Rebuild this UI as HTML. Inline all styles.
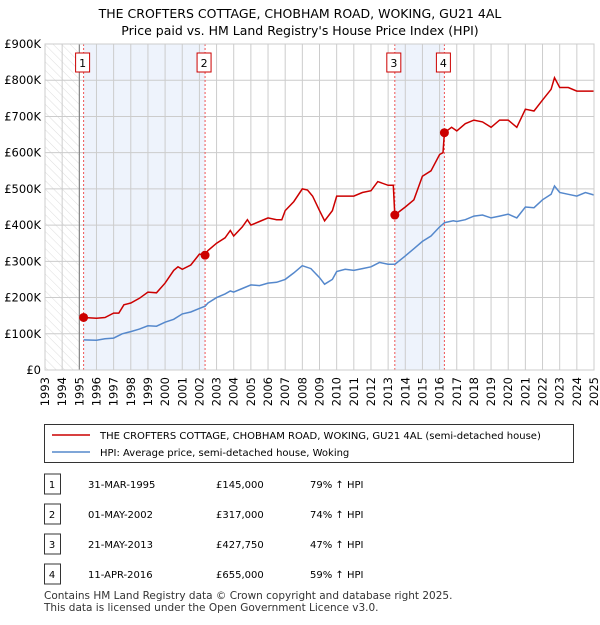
<!DOCTYPE html>
<html><head><meta charset="utf-8"><style>
body{margin:0;background:#fff;font-family:"Liberation Sans","DejaVu Sans",sans-serif;}
svg text{font-family:"DejaVu Sans","Liberation Sans",sans-serif;}
</style></head><body>
<svg id="c" width="600" height="620" xmlns="http://www.w3.org/2000/svg">
<defs><pattern id="hatch" width="6" height="6" patternUnits="userSpaceOnUse" patternTransform="rotate(-45)"><line x1="0" y1="0" x2="0" y2="6" stroke="#d4d4d4" stroke-width="0.8"/></pattern></defs>
<text x="300" y="18" text-anchor="middle" font-size="12.5">THE CROFTERS COTTAGE, CHOBHAM ROAD, WOKING, GU21 4AL</text>
<text x="300" y="35" text-anchor="middle" font-size="12.5">Price paid vs. HM Land Registry's House Price Index (HPI)</text>
<g id="plot"></g>
<g id="legend">
<rect x="44.5" y="424.5" width="529" height="38" fill="#fff" stroke="#333"/>
<line x1="52" y1="435" x2="90" y2="435" stroke="#cc0000" stroke-width="1.5"/>
<text x="100" y="439" font-size="10">THE CROFTERS COTTAGE, CHOBHAM ROAD, WOKING, GU21 4AL (semi-detached house)</text>
<line x1="52" y1="452" x2="90" y2="452" stroke="#5588cc" stroke-width="1.5"/>
<text x="100" y="456" font-size="10">HPI: Average price, semi-detached house, Woking</text>
</g>
<g id="table" font-size="10"></g>
<text x="44" y="599" font-size="10.5" fill="#333">Contains HM Land Registry data © Crown copyright and database right 2025.</text>
<text x="44" y="611" font-size="10.5" fill="#333">This data is licensed under the Open Government Licence v3.0.</text>
</svg>
<script>
const yTicks=[0,100,200,300,400,500,600,700,800,900];
const yTickLabels=["£0","£100K","£200K","£300K","£400K","£500K","£600K","£700K","£800K","£900K"];
const years=[1993,1994,1995,1996,1997,1998,1999,2000,2001,2002,2003,2004,2005,2006,2007,2008,2009,2010,2011,2012,2013,2014,2015,2016,2017,2018,2019,2020,2021,2022,2023,2024,2025];
const saleLabels=["1","2","3","4"];
const saleDates=[1995.25,2002.33,2013.39,2016.28];
const salePrices=[145,317,427.75,655];
const saleDateText=["31-MAR-1995","01-MAY-2002","21-MAY-2013","11-APR-2016"];
const salePriceText=["£145,000","£317,000","£427,750","£655,000"];
const saleHpiText=["79% ↑ HPI","74% ↑ HPI","47% ↑ HPI","59% ↑ HPI"];
const hpiT=[1995.25,1996,1996.5,1997,1997.5,1998,1998.5,1999,1999.5,2000,2000.5,2001,2001.5,2002,2002.33,2002.5,2003,2003.5,2003.8,2004,2004.5,2005,2005.5,2006,2006.5,2007,2007.5,2008,2008.5,2009,2009.3,2009.75,2010,2010.5,2011,2011.5,2012,2012.5,2013,2013.4,2014,2014.5,2015,2015.5,2016,2016.3,2016.8,2017,2017.5,2018,2018.5,2019,2019.5,2020,2020.5,2021,2021.5,2022,2022.5,2022.7,2023,2023.5,2024,2024.5,2025];
const hpiV=[83,82,86,88,100,106,113,122,121,132,140,155,160,170,176,185,200,210,218,215,225,235,233,240,242,250,268,288,280,255,237,250,272,278,275,280,285,297,292,292,315,335,355,370,395,407,412,410,415,425,428,420,425,430,420,450,448,470,485,508,490,485,480,490,483];
const priceT=[1995.25,1996,1996.5,1997,1997.3,1997.6,1998,1998.5,1999,1999.5,2000,2000.5,2000.75,2001,2001.5,2002,2002.33,2002.5,2003,2003.5,2003.8,2004,2004.5,2004.8,2005,2005.5,2006,2006.5,2006.8,2007,2007.5,2008,2008.3,2008.6,2009,2009.3,2009.75,2010,2010.5,2011,2011.5,2012,2012.4,2013,2013.3,2013.39,2014,2014.5,2015,2015.5,2016,2016.2,2016.28,2016.7,2017,2017.5,2018,2018.5,2019,2019.5,2020,2020.5,2021,2021.5,2022,2022.5,2022.7,2023,2023.5,2024,2024.5,2025];
const priceV=[145,143,145,157,157,180,185,198,215,213,240,275,285,278,290,320,317,330,350,365,385,370,395,415,400,410,420,415,415,440,465,500,497,480,440,412,440,480,480,480,490,495,520,510,510,428,450,470,535,550,595,600,655,670,660,680,690,685,670,690,690,670,720,715,745,775,807,780,780,770,770,770];

const NS="http://www.w3.org/2000/svg";
const L=45,R=594,T=44,B=370;
const x=t=>L+(t-1993)/(2025-1993)*(R-L);
const y=v=>B-v/900*(B-T);
const plot=document.getElementById('plot');
function mk(tag,attrs,parent){const e=document.createElementNS(NS,tag);for(const k in attrs)e.setAttribute(k,attrs[k]);(parent||plot).appendChild(e);return e;}
let r=mk('rect',{x:x(1993),y:T,width:x(1995)-x(1993),height:B-T,fill:'url(#hatch)'});


[[0,1],[2,3]].forEach(([a,b])=>{const s=mk('rect',{x:x(saleDates[a]),y:T,width:x(saleDates[b])-x(saleDates[a]),height:B-T,fill:'#eef3fc'});

});
years.forEach(yr=>{const g=mk('line',{x1:x(yr),x2:x(yr),y1:T,y2:B,stroke:'#ccc'});


const t=mk('text',{x:0,y:0,'font-size':11.5,'text-anchor':'end',transform:`translate(${x(yr)+4},${B+7}) rotate(-90)`});t.textContent=yr;

});
yTicks.forEach((v,i)=>{const g=mk('line',{x1:L,x2:R,y1:y(v),y2:y(v),stroke:'#ccc'});


const t=mk('text',{x:L-4,y:y(v)+4,'font-size':11.5,'text-anchor':'end'});t.textContent=yTickLabels[i];

});
mk('line',{x1:x(1995),x2:x(1995),y1:T,y2:B,stroke:'#777'});
saleDates.forEach((d,i)=>{const l=mk('line',{x1:x(d),x2:x(d),y1:T,y2:B,stroke:'#ee5555','stroke-dasharray':'2,2'});


const bx=x(d)-6;const b=mk('rect',{x:bx-2,y:53,width:14,height:19,fill:'#fff',stroke:'#cc0000'});


const t=mk('text',{x:bx+5,y:67,'font-size':11,'text-anchor':'middle'});t.textContent=saleLabels[i];

});
const path=(T2,V)=>T2.map((t,i)=>(i?'L':'M')+x(t).toFixed(1)+','+y(V[i]).toFixed(1)).join('');
const hp=mk('path',{d:path(hpiT,hpiV),fill:'none',stroke:'#5588cc','stroke-width':1.5});


const pp=mk('path',{d:path(priceT,priceV),fill:'none',stroke:'#cc0000','stroke-width':1.5});


saleDates.forEach((d,i)=>{const c=mk('circle',{cx:x(d),cy:y(salePrices[i]),r:4.5,fill:'#cc0000'});

});
mk('rect',{x:L,y:T,width:R-L,height:B-T,fill:'none',stroke:'#ccc'});
const tb=document.getElementById('table');
saleLabels.forEach((s,i)=>{const cy=484+i*30;
const b=mk('rect',{x:44.5,y:cy-10,width:16,height:20,fill:'#fff',stroke:'#333'},tb);


const cells=[[52,s,'middle'],[88,saleDateText[i],'start'],[216,salePriceText[i],'start'],[310,saleHpiText[i],'start']];
cells.forEach(c=>{const t=mk('text',{x:c[0],y:cy+4,'text-anchor':c[2]},tb);t.textContent=c[1];

});});
</script>
</body></html>
